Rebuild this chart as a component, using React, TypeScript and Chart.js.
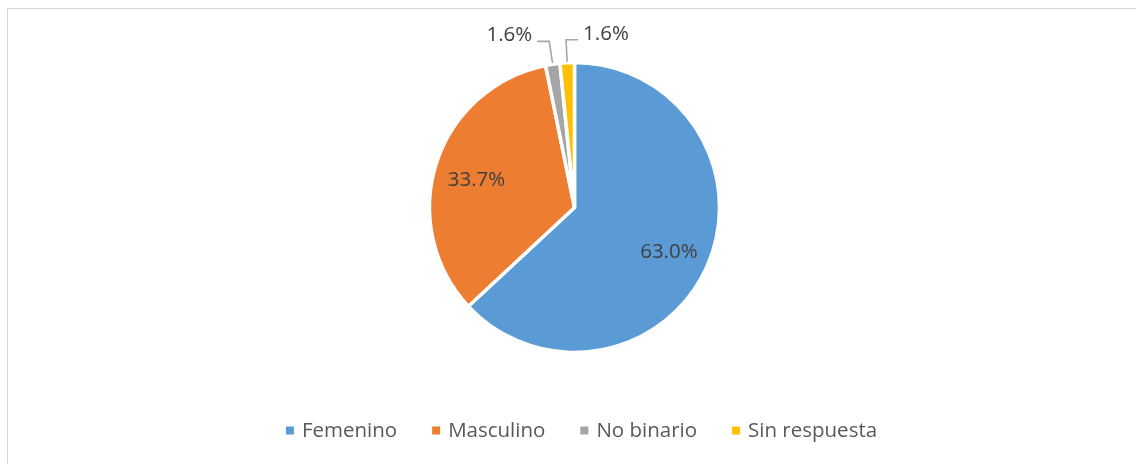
import { useEffect, useRef } from "react";
import { Chart, registerables } from "chart.js";

Chart.register(...registerables);

// ---- data ----
const categories = ["Femenino", "Masculino", "No binario", "Sin respuesta"];
const values = [63.0, 33.7, 1.6, 1.6];
const sliceColors = ["#5B9BD5", "#ED7D31", "#A5A5A5", "#FFC000"];

// ---- style ----
const FONT_FAMILY = "'Open Sans', 'Noto Sans', sans-serif";
const LABEL_FONT_SIZE = 20.5;
const LEGEND_FONT_SIZE = 20.5;
// labels drawn outside the pie with a leader line: -1 = to the left, 1 = to the right
const OUTSIDE_SIDE: Record<number, number> = { 2: -1, 3: 1 };

const pieLabelsPlugin = {
  id: "pieLabels",
  afterDatasetsDraw(chart: any) {
    const ctx = chart.ctx as CanvasRenderingContext2D;
    const meta = chart.getDatasetMeta(0);
    ctx.save();
    ctx.font = `${LABEL_FONT_SIZE}px ${FONT_FAMILY}`;
    ctx.fillStyle = "#404040";
    ctx.textBaseline = "middle";
    meta.data.forEach((arc: any, i: number) => {
      const { x, y, startAngle, endAngle, outerRadius } = arc.getProps(
        ["x", "y", "startAngle", "endAngle", "outerRadius"],
        true
      );
      const mid = (startAngle + endAngle) / 2;
      const cos = Math.cos(mid);
      const sin = Math.sin(mid);
      const text = values[i].toFixed(1) + "%";
      const side = OUTSIDE_SIDE[i];
      if (!side) {
        const r = outerRadius * 0.71;
        ctx.textAlign = "center";
        ctx.fillText(text, x + cos * r, y + sin * r + 4);
      } else {
        const r0 = outerRadius + 1;
        const r1 = outerRadius + 23;
        const p0x = x + cos * r0;
        const p0y = y + sin * r0;
        const p1x = x + cos * r1;
        const p1y = y + sin * r1;
        const p2x = p1x + side * 12;
        ctx.strokeStyle = "#A6A6A6";
        ctx.lineWidth = 1.6;
        ctx.beginPath();
        ctx.moveTo(p0x, p0y);
        ctx.lineTo(p1x, p1y);
        ctx.lineTo(p2x, p1y);
        ctx.stroke();
        ctx.textAlign = side < 0 ? "right" : "left";
        ctx.fillText(text, p2x + side * 5, p1y - 6);
      }
    });
    ctx.restore();
  },
};

const bottomLegendPlugin = {
  id: "bottomLegend",
  afterDraw(chart: any) {
    const ctx = chart.ctx as CanvasRenderingContext2D;
    const labels: string[] = chart.data.labels;
    const colors: string[] = chart.data.datasets[0].backgroundColor;
    const box = 8;
    const gap = 8;
    const itemGap = 35;
    const centerX = 573.5;
    const centerY = 421.5;
    ctx.save();
    ctx.font = `${LEGEND_FONT_SIZE}px ${FONT_FAMILY}`;
    ctx.textBaseline = "middle";
    ctx.textAlign = "left";
    const widths = labels.map((l) => box + gap + ctx.measureText(l).width);
    const total = widths.reduce((a, b) => a + b, 0) + itemGap * (labels.length - 1);
    let cx = centerX - total / 2;
    labels.forEach((l, i) => {
      ctx.fillStyle = colors[i];
      ctx.fillRect(cx, centerY - box / 2, box, box);
      ctx.fillStyle = "#595959";
      ctx.fillText(l, cx + box + gap, centerY + 0.5);
      cx += widths[i] + itemGap;
    });
    ctx.restore();
  },
};

export default function App() {
  const canvasRef = useRef<HTMLCanvasElement | null>(null);

  useEffect(() => {
    if (!canvasRef.current) return;
    const chart = new Chart(canvasRef.current, {
      type: "pie",
      data: {
        labels: categories,
        datasets: [
          {
            data: values,
            backgroundColor: sliceColors,
            borderColor: "#FFFFFF",
            borderWidth: 3.5,
            hoverBorderWidth: 3.5,
            hoverOffset: 0,
          },
        ],
      },
      options: {
        animation: false,
        responsive: true,
        maintainAspectRatio: false,
        radius: 145,
        rotation: 0,
        layout: { padding: { left: 20, right: 15, top: 20, bottom: 78 } },
        plugins: {
          legend: { display: false },
          tooltip: { enabled: false },
          title: { display: false },
        },
        events: [],
      } as any,
      plugins: [pieLabelsPlugin, bottomLegendPlugin],
    });
    return () => chart.destroy();
  }, []);

  return (
    <div
      style={{
        position: "fixed",
        left: 7,
        top: 8,
        width: 1129,
        height: 456,
        borderTop: "1px solid #d6d6d6",
        borderLeft: "1px solid #d6d6d6",
        boxSizing: "border-box",
        background: "#ffffff",
      }}
    >
      <div style={{ position: "relative", width: 1128, height: 455 }}>
        <canvas ref={canvasRef} />
      </div>
    </div>
  );
}
